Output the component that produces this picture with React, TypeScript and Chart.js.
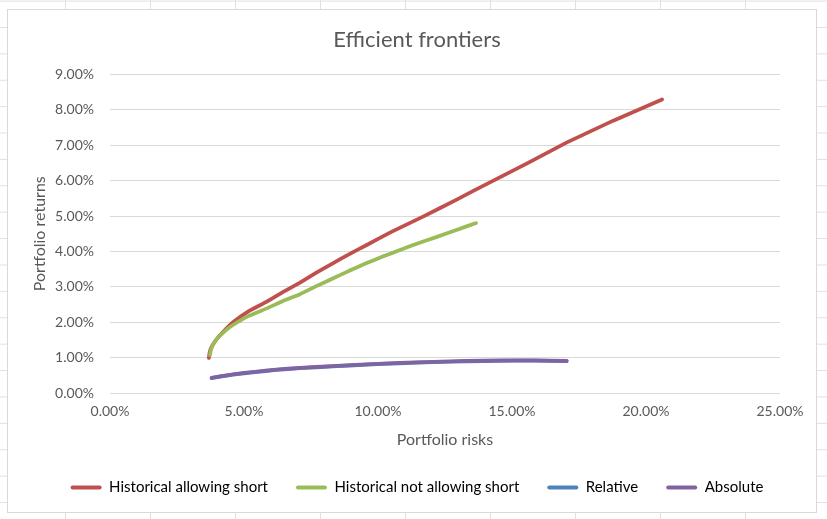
import { useEffect, useRef } from 'react';
import { Chart, registerables } from 'chart.js';

Chart.register(...registerables);

const seriesNames = ['Historical allowing short', 'Historical not allowing short', 'Relative', 'Absolute'];
const seriesColors = ['#C0504D', '#9BBB59', '#4F81BD', '#8064A2'];

// portfolio risk (x) and return (y), both in %
const allowShortRisk = [3.69, 3.72, 3.79, 3.96, 4.25, 4.59, 5.15, 5.85, 6.45, 7.09, 7.7, 8.33, 8.95, 9.58, 10.5, 11.7, 12.9, 14.25, 15.6, 17.05, 18.8, 20.6];
const allowShortReturn = [0.99, 1.15, 1.3, 1.5, 1.75, 2.0, 2.3, 2.58, 2.85, 3.12, 3.4, 3.67, 3.93, 4.18, 4.55, 4.99, 5.45, 5.98, 6.5, 7.08, 7.7, 8.29];

const noShortRisk = [3.73, 3.76, 3.85, 4.05, 4.3, 4.59, 5.15, 5.85, 6.45, 7.09, 7.7, 8.33, 8.95, 9.58, 10.2, 10.82, 11.5, 12.2, 12.9, 13.66];
const noShortReturn = [1.07, 1.2, 1.38, 1.58, 1.76, 1.92, 2.17, 2.39, 2.6, 2.79, 3.02, 3.24, 3.46, 3.67, 3.86, 4.04, 4.23, 4.41, 4.6, 4.8];

const relativeRisk = [3.79, 4.1, 4.6, 5.41, 6.2, 7.09, 8.3, 9.58, 10.8, 12.07, 13.3, 14.55, 15.8, 17.04];
const relativeReturn = [0.42, 0.46, 0.52, 0.59, 0.65, 0.7, 0.75, 0.8, 0.84, 0.87, 0.895, 0.91, 0.915, 0.9];

const absoluteRisk = [3.79, 4.1, 4.6, 5.41, 6.2, 7.09, 8.3, 9.58, 10.8, 12.07, 13.3, 14.55, 15.8, 17.04];
const absoluteReturn = [0.43, 0.47, 0.53, 0.6, 0.66, 0.71, 0.76, 0.81, 0.85, 0.88, 0.905, 0.92, 0.925, 0.91];

const xTicks = [0, 5, 10, 15, 20, 25];
const yTicks = [0, 1, 2, 3, 4, 5, 6, 7, 8, 9];

const FONT = 'Lato, "Liberation Sans", sans-serif';
const TEXT = '#595959';

const toPoints = (xs: number[], ys: number[]) => xs.map((x, i) => ({ x, y: ys[i] }));

export default function App() {
  const chartRef = useRef<HTMLCanvasElement | null>(null);
  const chartInstance = useRef<Chart | null>(null);

  useEffect(() => {
    if (!chartRef.current) return;
    if (chartInstance.current) chartInstance.current.destroy();

    const series = [
      toPoints(allowShortRisk, allowShortReturn),
      toPoints(noShortRisk, noShortReturn),
      toPoints(relativeRisk, relativeReturn),
      toPoints(absoluteRisk, absoluteReturn),
    ];

    chartInstance.current = new Chart(chartRef.current, {
      type: 'scatter',
      data: {
        datasets: series.map((pts, i) => ({
          label: seriesNames[i],
          data: pts,
          showLine: true,
          borderColor: seriesColors[i],
          backgroundColor: seriesColors[i],
          borderWidth: 3.75,
          borderCapStyle: 'round',
          borderJoinStyle: 'round',
          pointRadius: 0,
          tension: 0.1,
          order: 4 - i, // later series drawn on top, like Excel
        })),
      },
      options: {
        animation: false,
        responsive: true,
        maintainAspectRatio: false,
        layout: { padding: { left: 10, right: 0, top: 0, bottom: 7 } },
        plugins: {
          title: {
            display: true,
            text: 'Efficient frontiers',
            color: TEXT,
            font: { family: FONT, size: 22, weight: 'normal' },
            padding: { top: 17, bottom: 21 },
          },
          legend: {
            position: 'bottom',
            labels: {
              color: TEXT,
              font: { family: FONT, size: 15 },
              boxWidth: 31,
              boxHeight: 4,
              padding: 28,
              generateLabels: (chart) =>
                chart.data.datasets.map((ds, i) => ({
                  text: ds.label as string,
                  fillStyle: seriesColors[i],
                  strokeStyle: seriesColors[i],
                  lineWidth: 0,
                  borderRadius: 2,
                  hidden: !chart.isDatasetVisible(i),
                  datasetIndex: i,
                })),
            },
          },
          tooltip: { enabled: false },
        },
        scales: {
          x: {
            type: 'linear',
            min: xTicks[0],
            max: xTicks[xTicks.length - 1],
            afterBuildTicks: (scale) => {
              scale.ticks = xTicks.map((v) => ({ value: v }));
            },
            afterFit: (scale) => {
              scale.height = 59;
            },
            ticks: {
              color: TEXT,
              font: { family: FONT, size: 14 },
              padding: 10,
              callback: (v) => Number(v).toFixed(2) + '%',
            },
            grid: { display: false, drawTicks: false },
            border: { display: false },
            title: {
              display: true,
              text: 'Portfolio risks',
              color: TEXT,
              font: { family: FONT, size: 16 },
              padding: { top: 0, bottom: 3 },
            },
          },
          y: {
            type: 'linear',
            min: yTicks[0],
            max: yTicks[yTicks.length - 1],
            afterBuildTicks: (scale) => {
              scale.ticks = yTicks.map((v) => ({ value: v }));
            },
            afterFit: (scale) => {
              scale.width = 92;
            },
            ticks: {
              color: TEXT,
              font: { family: FONT, size: 14 },
              padding: 16,
              callback: (v) => Number(v).toFixed(2) + '%',
            },
            grid: { color: '#d9d9d9', lineWidth: 1, drawTicks: false },
            border: { display: false },
            title: {
              display: true,
              text: 'Portfolio returns',
              color: TEXT,
              font: { family: FONT, size: 16 },
              padding: { top: 12, bottom: 0 },
            },
          },
          // empty right-hand axis that only reserves the right margin of the plot
          yRight: {
            type: 'linear',
            position: 'right',
            min: yTicks[0],
            max: yTicks[yTicks.length - 1],
            afterFit: (scale) => {
              scale.width = 36;
            },
            ticks: { display: false },
            grid: { display: false, drawTicks: false },
            border: { display: false },
          },
        },
      },
    });

    return () => {
      if (chartInstance.current) {
        chartInstance.current.destroy();
        chartInstance.current = null;
      }
    };
  }, []);

  return (
    <>
      {/* spreadsheet cells behind the chart */}
      <div
        style={{
          position: 'fixed',
          inset: 0,
          background: '#fff',
          backgroundImage:
            'linear-gradient(to right, #e0e0e0 1px, transparent 1px), linear-gradient(to bottom, #e0e0e0 1px, transparent 1px)',
          backgroundSize: '85px 26.4px',
          backgroundPosition: '65px 0.6px',
        }}
      />
      <div
        style={{
          position: 'absolute',
          left: 7,
          top: 9,
          width: 808,
          height: 502,
          border: '1px solid #d9d9d9',
          background: '#fff',
        }}
      >
        <canvas ref={chartRef} />
      </div>
    </>
  );
}
